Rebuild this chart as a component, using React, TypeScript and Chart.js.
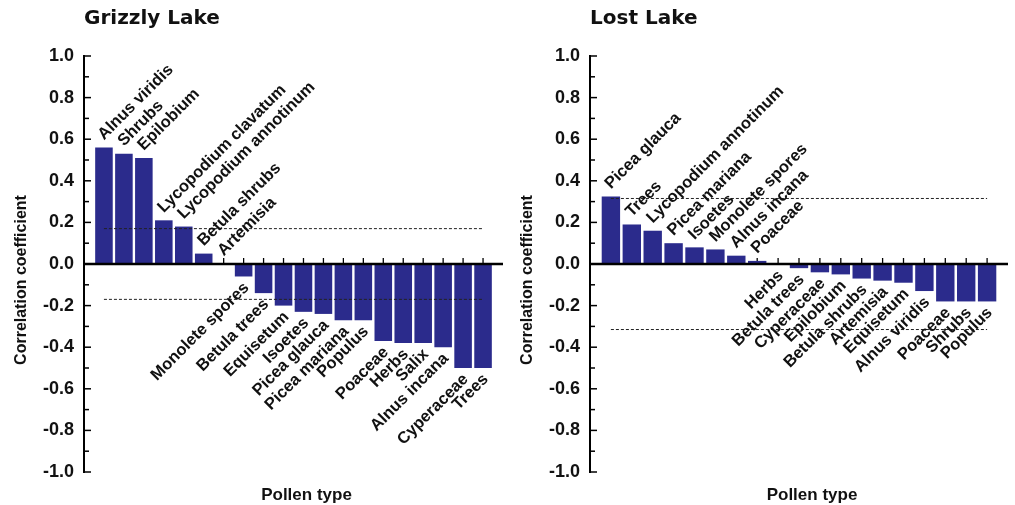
import React, { useEffect, useRef } from 'react';
import { Chart, registerables } from 'chart.js';

Chart.register(...registerables);

// ---------- data ----------
const grizzlyTitle = 'Grizzly Lake';
const grizzlyLabels = [
  'Alnus viridis', 'Shrubs', 'Epilobium', 'Lycopodium clavatum', 'Lycopodium annotinum',
  'Betula shrubs', 'Artemisia', 'Monolete spores', 'Betula trees', 'Equisetum', 'Isoetes',
  'Picea glauca', 'Picea mariana', 'Populus', 'Poaceae', 'Herbs', 'Salix', 'Alnus incana',
  'Cyperaceae', 'Trees',
];
const grizzlyValues = [
  0.56, 0.53, 0.51, 0.21, 0.18, 0.05, 0.003, -0.06, -0.14, -0.2, -0.23,
  -0.24, -0.27, -0.27, -0.37, -0.38, -0.38, -0.4, -0.5, -0.5,
];
const grizzlyThreshold = 0.17;

const lostTitle = 'Lost Lake';
const lostLabels = [
  'Picea glauca', 'Trees', 'Lycopodium annotinum', 'Picea mariana', 'Isoetes',
  'Monolete spores', 'Alnus incana', 'Poaceae', 'Herbs', 'Betula trees', 'Cyperaceae',
  'Epilobium', 'Betula shrubs', 'Artemisia', 'Equisetum', 'Alnus viridis', 'Poaceae',
  'Shrubs', 'Populus',
];
const lostValues = [
  0.325, 0.19, 0.16, 0.1, 0.08, 0.07, 0.04, 0.015, -0.003, -0.02, -0.04,
  -0.05, -0.07, -0.08, -0.09, -0.13, -0.18, -0.18, -0.18,
];
const lostThreshold = 0.315;

const yAxisTitle = 'Correlation coefficient';
const xAxisTitle = 'Pollen type';

// ---------- styling ----------
const FONT = '"Liberation Sans", Arial, Helvetica, sans-serif';
const BAR_COLOR = '#2b2b8c';
const TEXT_COLOR = '#111111';

function makeConfig(title: string, labels: string[], values: number[], threshold: number): any {
  const n = labels.length;
  const barData = values.map((v, i) => ({ x: i, y: v }));
  const upper = [{ x: 0, y: threshold }, { x: n - 1, y: threshold }];
  const lower = [{ x: 0, y: -threshold }, { x: n - 1, y: -threshold }];

  const decor = {
    id: 'decor',
    beforeDatasetsDraw(chart: any) {
      const ctx = chart.ctx;
      const xs = chart.scales.x;
      const ys = chart.scales.y;
      const y0 = ys.getPixelForValue(0);
      ctx.save();
      ctx.strokeStyle = '#000';
      ctx.lineWidth = 1.3;
      for (let i = 0; i < n; i++) {
        const px = xs.getPixelForValue(i);
        ctx.beginPath();
        ctx.moveTo(px, y0);
        ctx.lineTo(px, y0 - 6);
        ctx.stroke();
      }
      ctx.restore();
    },
    afterDatasetsDraw(chart: any) {
      const ctx = chart.ctx;
      const ys = chart.scales.y;
      const area = chart.chartArea;
      const y0 = ys.getPixelForValue(0);
      ctx.save();
      // zero line
      ctx.strokeStyle = '#000';
      ctx.lineWidth = 2.5;
      ctx.beginPath();
      ctx.moveTo(area.left, y0);
      ctx.lineTo(area.right, y0);
      ctx.stroke();
      // bar labels
      const meta = chart.getDatasetMeta(2);
      ctx.font = `bold 16.5px ${FONT}`;
      ctx.fillStyle = TEXT_COLOR;
      ctx.textBaseline = 'alphabetic';
      meta.data.forEach((el: any, i: number) => {
        const v = values[i];
        ctx.save();
        if (v >= 0) {
          ctx.translate(el.x, el.y - 7);
          ctx.rotate(-Math.PI / 4);
          ctx.textAlign = 'left';
        } else {
          ctx.translate(el.x + 6, el.y + 12);
          ctx.rotate(-Math.PI / 4);
          ctx.textAlign = 'right';
        }
        ctx.fillText(labels[i], 0, 0);
        ctx.restore();
      });
      ctx.restore();
    },
    afterDraw(chart: any) {
      const ctx = chart.ctx;
      const ys = chart.scales.y;
      const area = chart.chartArea;
      ctx.save();
      // inward ticks on the y axis every 0.1
      ctx.strokeStyle = '#000';
      ctx.lineWidth = 1.5;
      for (let k = -10; k <= 10; k++) {
        const py = ys.getPixelForValue(k / 10);
        const len = k % 2 === 0 ? 7 : 5;
        ctx.beginPath();
        ctx.moveTo(area.left, py);
        ctx.lineTo(area.left + len, py);
        ctx.stroke();
      }
      // axis titles
      ctx.fillStyle = TEXT_COLOR;
      ctx.textAlign = 'center';
      ctx.textBaseline = 'middle';
      ctx.font = `bold 17px ${FONT}`;
      ctx.fillText(xAxisTitle, (area.left + area.right) / 2 + 13, area.bottom + 23);
      ctx.font = `bold 16px ${FONT}`;
      ctx.translate(area.left - 62, (area.top + area.bottom) / 2 + 16);
      ctx.rotate(-Math.PI / 2);
      ctx.fillText(yAxisTitle, 0, 0);
      ctx.restore();
    },
  };

  return {
    type: 'bar',
    data: {
      datasets: [
        {
          type: 'line', data: upper, borderColor: '#222', borderWidth: 1,
          borderDash: [3, 2], pointRadius: 0, fill: false, order: 0,
        },
        {
          type: 'line', data: lower, borderColor: '#222', borderWidth: 1,
          borderDash: [3, 2], pointRadius: 0, fill: false, order: 0,
        },
        {
          type: 'bar', data: barData, backgroundColor: BAR_COLOR, borderWidth: 0,
          barPercentage: 0.88, categoryPercentage: 1, order: 1,
        },
      ],
    },
    options: {
      animation: false,
      responsive: false,
      maintainAspectRatio: false,
      layout: { padding: { left: 0, right: 7, top: 0, bottom: 33 } },
      plugins: {
        legend: { display: false },
        tooltip: { enabled: false },
        title: {
          display: true,
          text: title,
          align: 'start',
          fullSize: false,
          color: TEXT_COLOR,
          font: { family: '"DejaVu Sans", sans-serif', size: 20, weight: 'bold', lineHeight: 1.2 },
          padding: { top: 7, bottom: 25 },
        },
      },
      scales: {
        x: { type: 'linear', min: -1, max: n, offset: false, display: false },
        y: {
          min: -1,
          max: 1,
          ticks: {
            stepSize: 0.2,
            padding: 10,
            color: TEXT_COLOR,
            font: { family: FONT, size: 18, weight: 'bold' },
            callback: (v: any) => (Math.abs(Number(v)) < 1e-9 ? '0.0' : Number(v).toFixed(1)),
          },
          grid: { display: false, drawTicks: false },
          border: { display: true, color: '#000', width: 2 },
          afterFit: (s: any) => { s.width = 84; },
        },
      },
    },
    plugins: [decor],
  };
}

function BarPanel(props: { left: number; width: number; title: string; labels: string[]; values: number[]; threshold: number }) {
  const ref = useRef<HTMLCanvasElement | null>(null);
  useEffect(() => {
    if (!ref.current) return;
    const chart = new Chart(ref.current, makeConfig(props.title, props.labels, props.values, props.threshold));
    return () => chart.destroy();
  }, []);
  return (
    <canvas
      ref={ref}
      width={props.width}
      height={505}
      style={{ position: 'absolute', left: props.left, top: 0, width: props.width, height: 505 }}
    />
  );
}

export default function App() {
  return (
    <div style={{ position: 'fixed', left: 0, top: 0, width: 1015, height: 505, background: '#fff', overflow: 'hidden' }}>
      <BarPanel left={0} width={510} title={grizzlyTitle} labels={grizzlyLabels} values={grizzlyValues} threshold={grizzlyThreshold} />
      <BarPanel left={506} width={509} title={lostTitle} labels={lostLabels} values={lostValues} threshold={lostThreshold} />
    </div>
  );
}
